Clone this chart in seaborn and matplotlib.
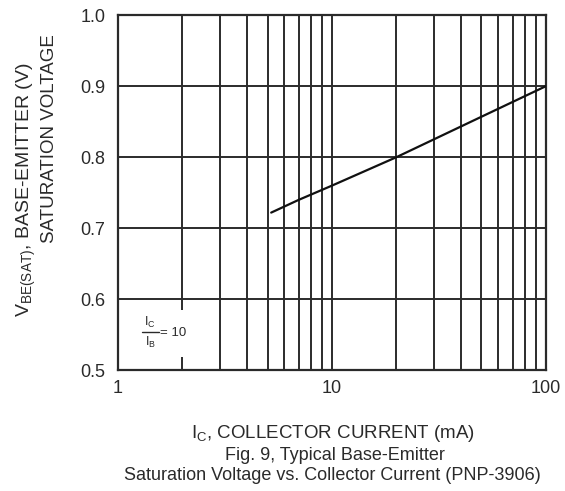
import numpy as np
import pandas as pd
import seaborn as sns
import matplotlib.pyplot as plt
from matplotlib.patches import Rectangle
from matplotlib.lines import Line2D
from matplotlib.ticker import LogLocator, FixedLocator, NullFormatter

# Datos
ic_ma = [5.2, 7.0, 10.0, 20.0, 50.0, 100.0]
vbe_sat = [0.722, 0.740, 0.760, 0.800, 0.857, 0.900]
x_ticks = [1, 10, 100]
x_tick_labels = ["1", "10", "100"]
y_ticks = [0.5, 0.6, 0.7, 0.8, 0.9, 1.0]

sns.set_style("white")
plt.rcParams['font.family'] = ['Liberation Sans', 'DejaVu Sans']
plt.rcParams['mathtext.fontset'] = 'custom'
plt.rcParams['mathtext.rm'] = 'Liberation Sans'
plt.rcParams['mathtext.it'] = 'Liberation Sans'

txt_col = "#2a2a2a"
df = pd.DataFrame({"ic": ic_ma, "vbe": vbe_sat})

fig = plt.figure(figsize=(5.65, 4.91), dpi=100)
ax = fig.add_axes([0.209, 0.246, 0.757, 0.723])

grid_col = "#2b2b2b"
ax.set_xscale("log")
ax.set_xlim(1, 100)
ax.set_ylim(0.5, 1.0)
ax.xaxis.set_major_locator(FixedLocator(x_ticks))
ax.set_xticklabels(x_tick_labels)
ax.xaxis.set_minor_locator(LogLocator(base=10, subs=np.arange(2, 10)))
ax.xaxis.set_minor_formatter(NullFormatter())
ax.set_yticks(y_ticks)
ax.set_yticklabels([f"{v:.1f}" for v in y_ticks])
ax.grid(True, which="both", axis="both", color=grid_col, linewidth=1.4)
ax.tick_params(which="both", length=0, labelsize=13, colors=txt_col)
ax.tick_params(axis="y", pad=9)
ax.tick_params(axis="x", pad=7)

sns.lineplot(data=df, x="ic", y="vbe", ax=ax, color="#111111", linewidth=1.6, zorder=5)

for s in ax.spines.values():
    s.set_color(txt_col)
    s.set_linewidth(1.6)

ax.set_xlabel("")
ax.set_ylabel("")

# hueco blanco en la rejilla para la anotacion IC/IB = 10
ax.add_patch(Rectangle((0.245, 0.273), 0.115, 0.096, transform=fig.transFigure,
                       facecolor="white", edgecolor="none", zorder=2))
fig.text(0.266, 0.344, r"I$_\mathrm{C}$", ha="center", va="center", fontsize=9, color=txt_col, zorder=6)
fig.text(0.266, 0.302, r"I$_\mathrm{B}$", ha="center", va="center", fontsize=9, color=txt_col, zorder=6)
fig.add_artist(Line2D([0.252, 0.281], [0.324, 0.324], transform=fig.transFigure,
                      color=txt_col, linewidth=1.0))
fig.text(0.283, 0.322, "= 10", ha="left", va="center", fontsize=9.5, color=txt_col)

fig.text(0.589, 0.118, r"I$_\mathrm{C}$, COLLECTOR CURRENT (mA)", ha="center", va="center",
         fontsize=13.5, color=txt_col)
fig.text(0.592, 0.073, "Fig. 9, Typical Base-Emitter", ha="center", va="center",
         fontsize=13, color=txt_col)
fig.text(0.588, 0.032, "Saturation Voltage vs. Collector Current (PNP-3906)", ha="center", va="center",
         fontsize=13, color=txt_col)

fig.text(0.047, 0.613, r"V$_\mathrm{BE(SAT)}$, BASE-EMITTER (V)", rotation=90, ha="center", va="center",
         fontsize=14, color=txt_col)
fig.text(0.088, 0.718, "SATURATION VOLTAGE", rotation=90, ha="center", va="center",
         fontsize=13.5, color=txt_col)

fig.savefig("out.png", dpi=100)
